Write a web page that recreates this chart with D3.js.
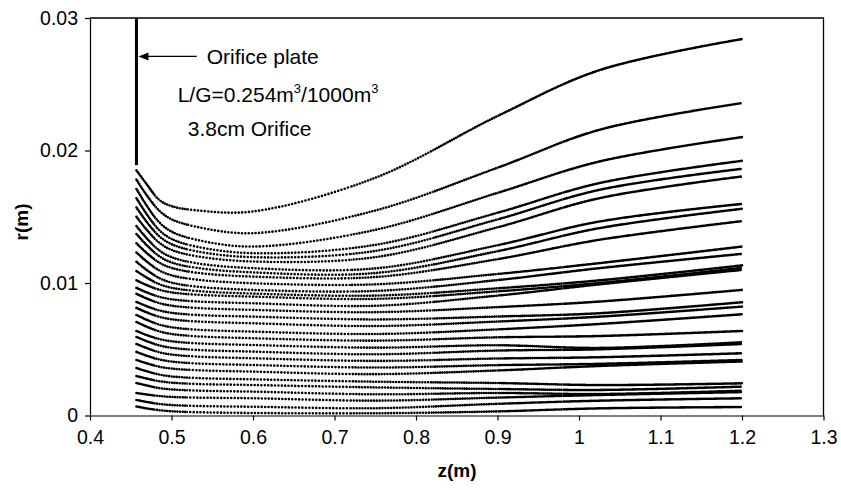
<!DOCTYPE html>
<html>
<head>
<meta charset="utf-8">
<script src="https://d3js.org/d3.v7.min.js"></script>
<style>
  body { margin: 0; background: #fff; }
  svg { display: block; font-family: Arial, "Liberation Sans", sans-serif; }
  .axis text { font-size: 19.5px; fill: #000; }
  .axis path, .axis line { stroke: #000; stroke-width: 1.2px; }
  .stream { fill: none; stroke: #000; stroke-width: 2.6px; stroke-linecap: round; }
  .note { font-size: 21px; fill: #000; }
  .title { font-size: 19px; font-weight: bold; fill: #000; }
</style>
</head>
<body>
<svg id="chart" width="841" height="490"></svg>
<script>

var zKeys = [0.457, 0.47, 0.485, 0.5, 0.53, 0.6, 0.75, 0.9, 1.025, 1.2];

// radial position r(m) of every streamline at the zKeys above, top to bottom
var rLines = [
  [0.0185, 0.01742, 0.01627, 0.0158, 0.01549, 0.0154, 0.01794, 0.0226, 0.02606, 0.02841],
  [0.0178, 0.01659, 0.01546, 0.01481, 0.01425, 0.01376, 0.01547, 0.0187, 0.02156, 0.02358],
  [0.0171, 0.0158, 0.01458, 0.01388, 0.01327, 0.01275, 0.01401, 0.0168, 0.01917, 0.02101],
  [0.0164, 0.01516, 0.01399, 0.01333, 0.01275, 0.01225, 0.01288, 0.0153, 0.01754, 0.01922],
  [0.0157, 0.01458, 0.01353, 0.01293, 0.0124, 0.01195, 0.01242, 0.0148, 0.01703, 0.01862],
  [0.0150, 0.01399, 0.01304, 0.0125, 0.01203, 0.01162, 0.01195, 0.0142, 0.0164, 0.01804],
  [0.0143, 0.01335, 0.01246, 0.01195, 0.0115, 0.01112, 0.0111, 0.01285, 0.01464, 0.01597],
  [0.0137, 0.01283, 0.01202, 0.01155, 0.01115, 0.0108, 0.01075, 0.0124, 0.01414, 0.0156],
  [0.0130, 0.01224, 0.01154, 0.01114, 0.01078, 0.01048, 0.01045, 0.0118, 0.01326, 0.01467],
  [0.0123, 0.0116, 0.01095, 0.01058, 0.01026, 0.00998, 0.0099, 0.01068, 0.0115, 0.01275],
  [0.0116, 0.01096, 0.01037, 0.01003, 0.00973, 0.00948, 0.0094, 0.01022, 0.01112, 0.0122],
  [0.0109, 0.01039, 0.00991, 0.00964, 0.0094, 0.0092, 0.00905, 0.0096, 0.0102, 0.01133],
  [0.0102, 0.00983, 0.00949, 0.00929, 0.00912, 0.00897, 0.0088, 0.00937, 0.0100, 0.01114],
  [0.00963, 0.00928, 0.00896, 0.00877, 0.00861, 0.00847, 0.00828, 0.00905, 0.0099, 0.01099],
  [0.00918, 0.00882, 0.00848, 0.00829, 0.00812, 0.00797, 0.0078, 0.00818, 0.0086, 0.00948],
  [0.00857, 0.00824, 0.00793, 0.00775, 0.00759, 0.00746, 0.00725, 0.00747, 0.00772, 0.00855],
  [0.00812, 0.00777, 0.00745, 0.00726, 0.0071, 0.00696, 0.00675, 0.00709, 0.00746, 0.00822],
  [0.00759, 0.00721, 0.00686, 0.00666, 0.00648, 0.00633, 0.00615, 0.0065, 0.00691, 0.00764],
  [0.00706, 0.00669, 0.00635, 0.00615, 0.00598, 0.00583, 0.00565, 0.0059, 0.0060, 0.00638],
  [0.00638, 0.00606, 0.00577, 0.0056, 0.00545, 0.00532, 0.00512, 0.0053, 0.0051, 0.00553],
  [0.00593, 0.0056, 0.00529, 0.00511, 0.00495, 0.00482, 0.00462, 0.0049, 0.0050, 0.0054],
  [0.0054, 0.00508, 0.00477, 0.0046, 0.00445, 0.00432, 0.00412, 0.0043, 0.0044, 0.0047],
  [0.0048, 0.0045, 0.00423, 0.00407, 0.00393, 0.00381, 0.00362, 0.0038, 0.0039, 0.00419],
  [0.00419, 0.00393, 0.00368, 0.00354, 0.00342, 0.00331, 0.00312, 0.0034, 0.00374, 0.00408],
  [0.00358, 0.00333, 0.00309, 0.00295, 0.00283, 0.00273, 0.00255, 0.00245, 0.0023, 0.00243],
  [0.00298, 0.00278, 0.00259, 0.00248, 0.00238, 0.0023, 0.00212, 0.002, 0.00193, 0.00218],
  [0.00245, 0.00226, 0.00207, 0.00197, 0.00188, 0.0018, 0.0016, 0.0017, 0.00162, 0.00187],
  [0.0017, 0.00158, 0.00147, 0.0014, 0.00135, 0.0013, 0.00112, 0.00135, 0.00155, 0.00177],
  [0.00117, 0.00102, 0.00087, 0.00079, 0.00072, 0.00066, 0.00055, 0.00088, 0.00112, 0.0013],
  [0.00068, 0.00053, 0.0004, 0.00032, 0.00025, 0.00019, 0.00017, 0.00031, 0.00054, 0.00064]
];

var xTicks = [0.4, 0.5, 0.6, 0.7, 0.8, 0.9, 1, 1.1, 1.2, 1.3];
var yTicks = [0, 0.01, 0.02, 0.03];

// orifice plate: axial position and lower edge
var plateZ = 0.457;
var plateR = [0.0189, 0.03];

var svg = d3.select("#chart");

var x = d3.scaleLinear().domain([0.4, 1.3]).range([90, 823.5]);
var y = d3.scaleLinear().domain([0, 0.03]).range([415.5, 18]);

// dot spacing changes along z, like the solver output does
var zones = [
  {from: 0.44, to: 0.48, gap: 1.8},
  {from: 0.48, to: 0.52, gap: 2.6},
  {from: 0.52, to: 0.72, gap: 3.4},
  {from: 0.72, to: 0.82, gap: 2.9},
  {from: 0.82, to: 0.9, gap: 2.4},
  {from: 0.9, to: 0.98, gap: 2.0},
  {from: 0.98, to: 1.22, gap: 1.6}
];

var defs = svg.append("defs");
zones.forEach(function(zn, i) {
  defs.append("clipPath").attr("id", "zone" + i)
    .append("rect")
      .attr("x", x(zn.from))
      .attr("y", 0)
      .attr("width", x(zn.to) - x(zn.from))
      .attr("height", 490);
});

var line = d3.line()
    .x(function(d) { return x(d[0]); })
    .y(function(d) { return y(d[1]); })
    .curve(d3.curveCatmullRom.alpha(0.5));

var lineData = rLines.map(function(row) {
  return row.map(function(r, j) { return [zKeys[j], r]; });
});

var streams = svg.append("g").attr("class", "streams");
zones.forEach(function(zn, i) {
  streams.append("g")
      .attr("clip-path", "url(#zone" + i + ")")
    .selectAll("path")
    .data(lineData)
    .join("path")
      .attr("class", "stream")
      .attr("stroke-dasharray", "0," + zn.gap)
      .attr("d", line);
});

// axes
svg.append("g")
    .attr("class", "axis")
    .attr("transform", "translate(0," + y(0) + ")")
    .call(d3.axisBottom(x).tickValues(xTicks).tickFormat(String)
      .tickSize(5).tickSizeOuter(0).tickPadding(10));

svg.append("g")
    .attr("class", "axis")
    .attr("transform", "translate(" + x(0.4) + ",0)")
    .call(d3.axisLeft(y).tickValues(yTicks).tickFormat(String)
      .tickSize(5).tickSizeOuter(0).tickPadding(7));

// frame top and right
svg.append("path")
    .attr("d", "M" + x(0.4) + "," + y(0.03) + "H" + x(1.3) + "V" + y(0))
    .attr("fill", "none")
    .attr("stroke", "#000")
    .attr("stroke-width", 1.3);

// orifice plate
svg.append("line")
    .attr("x1", x(plateZ)).attr("x2", x(plateZ))
    .attr("y1", y(plateR[0])).attr("y2", y(plateR[1]))
    .attr("stroke", "#000")
    .attr("stroke-width", 3);

// arrow to the plate
var ay = y(0.0271);
var ax0 = x(0.531), ax1 = x(plateZ) + 2;
svg.append("line")
    .attr("x1", ax0).attr("x2", ax1 + 8)
    .attr("y1", ay).attr("y2", ay)
    .attr("stroke", "#000").attr("stroke-width", 1.3);
svg.append("path")
    .attr("d", "M" + ax1 + "," + ay + "l10,-4v8z")
    .attr("fill", "#000");

svg.append("text").attr("class", "note")
    .attr("x", x(0.5432)).attr("y", y(0.02655))
    .text("Orifice plate");

var lg = svg.append("text").attr("class", "note")
    .attr("x", x(0.5076)).attr("y", y(0.02368));
lg.append("tspan").text("L/G=0.254m");
lg.append("tspan").attr("dy", -9).style("font-size", "13px").text("3");
lg.append("tspan").attr("dy", 9).text("/1000m");
lg.append("tspan").attr("dy", -9).style("font-size", "13px").text("3");

svg.append("text").attr("class", "note")
    .attr("x", x(0.5199)).attr("y", y(0.02106))
    .text("3.8cm Orifice");

// axis titles
svg.append("text").attr("class", "title")
    .attr("x", 457).attr("y", 477)
    .attr("text-anchor", "middle")
    .text("z(m)");

svg.append("text").attr("class", "title")
    .attr("transform", "translate(28,222) rotate(-90)")
    .attr("text-anchor", "middle")
    .text("r(m)");

</script>
</body>
</html>
